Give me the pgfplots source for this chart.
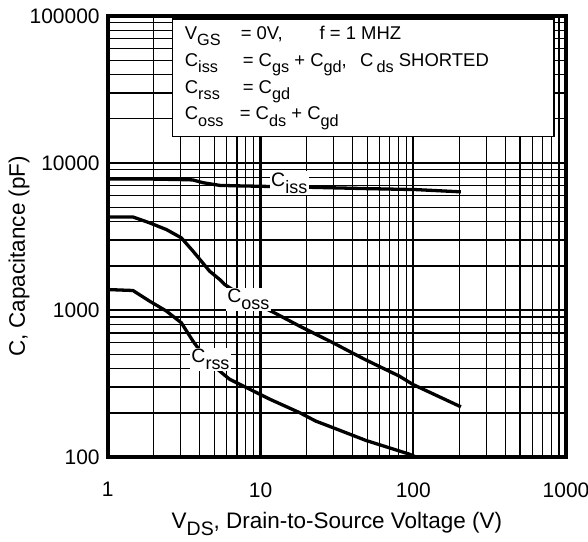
\documentclass[border=0pt]{standalone}
\usepackage{fontspec}
\setmainfont{Liberation Sans}
\usepackage{pgfplots}
\pgfplotsset{compat=1.18}
\newcommand\sub[1]{\raisebox{-6.5pt}{\fontsize{16.3}{18}\selectfont #1}}
\newcommand\xsub[1]{\raisebox{-7.5pt}{\fontsize{19.5}{21}\selectfont #1}}
\newcommand\csub[1]{\raisebox{-7pt}{\fontsize{18}{20}\selectfont #1}}
\begin{document}
\begin{tikzpicture}
\begin{axis}[name=ax, xmode=log, ymode=log, scale only axis,
  width=459pt, height=442pt,
  xmin=1, xmax=1000, ymin=100, ymax=100000,
  xtick={1,10,100,1000}, xticklabels={1,10,100,1000},
  ytick={100,1000,10000,100000}, yticklabels={100,1000,10000,100000},
  minor xtick={2,3,4,5,6,7,8,9,20,30,40,50,60,70,80,90,200,300,400,500,600,700,800,900},
  minor ytick={200,300,400,500,600,700,800,900,2000,3000,4000,5000,6000,7000,8000,9000,20000,30000,40000,50000,60000,70000,80000,90000},
  grid=both,
  major grid style={black, line width=2.2pt},
  minor grid style={black, line width=1.3pt},
  axis line style={line width=3.5pt},
  tick style={draw=none},
  ticklabel style={font=\fontsize{21}{24}\selectfont, inner sep=0pt},
  xticklabel style={anchor=north, yshift=-25pt},
  yticklabel style={anchor=east, xshift=-8pt},
  xlabel={V\xsub{DS}, Drain-to-Source Voltage (V)},
  ylabel={C, Capacitance (pF)},
  label style={font=\fontsize{22.5}{25}\selectfont},
  xlabel style={at={(axis description cs:0.5,0)}, anchor=base, yshift=-71pt},
  ylabel style={at={(axis description cs:-0.1808,0.455)}, anchor=base},
  cycle list={{black}},
  every axis plot/.append style={line width=3.3pt, black, no marks, line join=round},
]
\addplot coordinates {(1,7800) (2,7780) (3,7720) (3.6,7680) (4.2,7350) (4.64,7230) (5.4,7050) (7,7000) (10,6950) (20,6850) (50,6700) (104,6600) (205,6370)};
\addplot coordinates {(1,4300) (1.46,4300) (1.88,3920) (2.42,3530) (3.03,3100) (3.61,2520) (4.64,1840) (5.4,1616) (5.82,1494) (7,1320) (9,1120) (12.3,960) (18,779) (29.7,601) (48,463) (81,356) (99,313) (205,220)};
\addplot coordinates {(1,1380) (1.46,1360) (1.88,1150) (2.42,985) (3.03,820) (3.61,616) (4.5,450) (6.27,339) (11.5,248) (18,201) (23,176) (29.7,159) (49,130) (94,105) (105,100)};
\node[fill=white, inner sep=1.5pt, anchor=base west, font=\fontsize{19.5}{22}\selectfont] at (axis cs:11.45,6950) {C\csub{iss}};
\node[fill=white, inner sep=1.5pt, anchor=base west, font=\fontsize{19.5}{22}\selectfont] at (axis cs:5.91,1122) {C\csub{oss}};
\node[fill=white, inner sep=1.5pt, anchor=base west, font=\fontsize{19.5}{22}\selectfont] at (axis cs:3.44,439) {C\csub{rss}};
\end{axis}
\draw[line width=1.3pt, fill=white] ([shift={(65pt,-3pt)}]ax.north west) rectangle ([shift={(447pt,-121pt)}]ax.north west);
\begin{scope}[every node/.style={anchor=base west, inner sep=0pt, font=\fontsize{18.5}{21}\selectfont}]
\node at ([shift={(77pt,-23.3pt)}]ax.north west) {V\sub{GS}};
\node at ([shift={(133pt,-23.3pt)}]ax.north west) {= 0V,};
\node at ([shift={(212pt,-23.3pt)}]ax.north west) {f = 1 MHZ};
\node at ([shift={(77pt,-50.3pt)}]ax.north west) {C\sub{iss}};
\node at ([shift={(135pt,-50.3pt)}]ax.north west) {= C\sub{gs} + C\sub{gd},\ \ \,C\,\sub{ds} SHORTED};
\node at ([shift={(77pt,-77.3pt)}]ax.north west) {C\sub{rss}};
\node at ([shift={(135pt,-77.3pt)}]ax.north west) {= C\sub{gd}};
\node at ([shift={(77pt,-104pt)}]ax.north west) {C\sub{oss}};
\node at ([shift={(132pt,-104pt)}]ax.north west) {= C\sub{ds} + C\sub{gd}};
\end{scope}
\pgfresetboundingbox
\path ([shift={(-108pt,-84pt)}]ax.south west) rectangle ([shift={(22pt,16pt)}]ax.north east);
\end{tikzpicture}
\end{document}
